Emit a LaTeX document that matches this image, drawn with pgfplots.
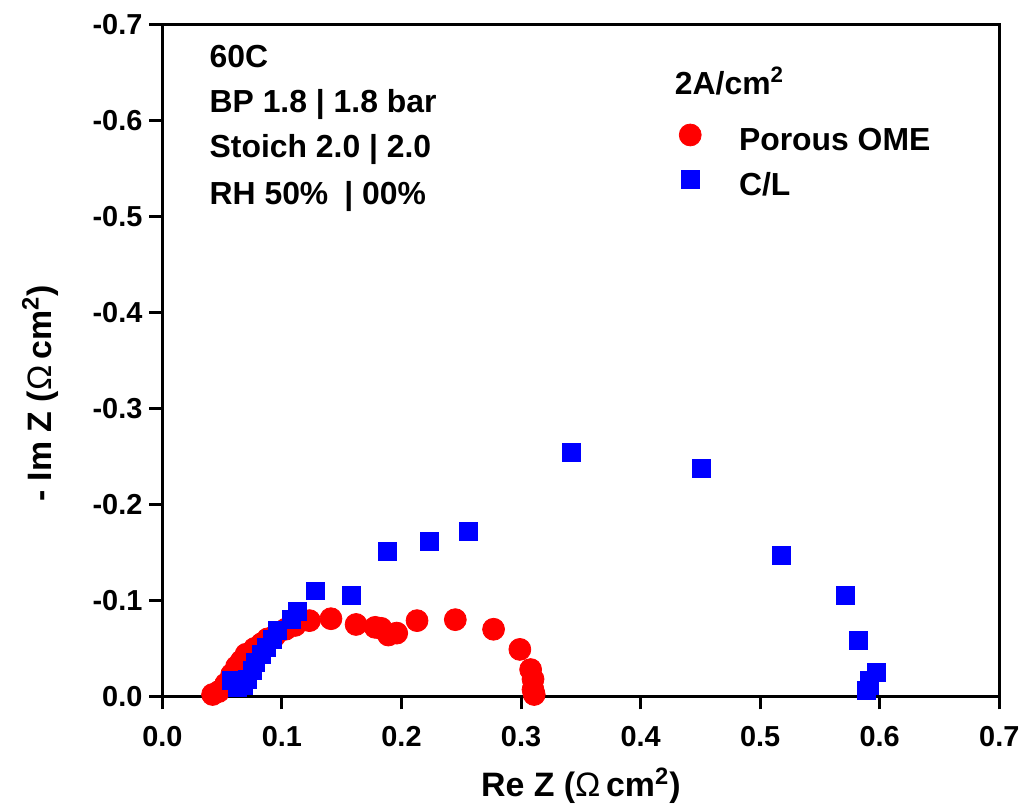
\documentclass[border=0pt]{standalone}
\usepackage{fontspec}
\setmainfont{Liberation Sans}
\usepackage{pgfplots}
\pgfplotsset{compat=1.18}
\begin{document}
\begin{tikzpicture}
\begin{axis}[
  scale only axis,
  width=420pt, height=337pt,
  xmin=0, xmax=0.7, ymin=-0.7, ymax=0,
  y dir=reverse,
  axis line style={line width=1.5pt},
  every tick/.style={line width=1.5pt, black},
  tick align=outside, tick pos=left,
  major tick length=6.5pt,
  xtick={0,0.1,0.2,0.3,0.4,0.5,0.6,0.7},
  xticklabels={0.0,0.1,0.2,0.3,0.4,0.5,0.6,0.7},
  ytick={0,-0.1,-0.2,-0.3,-0.4,-0.5,-0.6,-0.7},
  yticklabels={0.0,-0.1,-0.2,-0.3,-0.4,-0.5,-0.6,-0.7},
  ticklabel style={font=\fontsize{14.5}{16}\selectfont\bfseries},
  xticklabel style={yshift=-5pt},
  xlabel={Re Z ({\mdseries Ω}\,cm\textsuperscript{2})},
  ylabel={- Im Z ({\mdseries Ω}\,cm\textsuperscript{2})},
  label style={font=\fontsize{17}{19}\selectfont\bfseries},
  xlabel style={at={(axis description cs:0.5,-0.133)}, anchor=center},
  ylabel style={at={(axis description cs:-0.146,0.451)}, anchor=center},
  legend style={at={(rel axis cs:0.61,0.876)}, anchor=north west, draw=none, fill=none,
    font=\fontsize{16}{18}\selectfont\bfseries},
  legend cell align=left,
]
\addplot[only marks, mark=*, mark size=5.5pt, color=red, fill=red] coordinates {
(0.042,-0.002) (0.047,-0.005) (0.053,-0.013) (0.058,-0.023) (0.062,-0.031)
(0.066,-0.037) (0.070,-0.044) (0.077,-0.050) (0.083,-0.055) (0.088,-0.060)
(0.094,-0.063) (0.103,-0.070) (0.111,-0.074) (0.123,-0.079) (0.141,-0.081)
(0.162,-0.075) (0.178,-0.072) (0.183,-0.071) (0.189,-0.064) (0.196,-0.066)
(0.213,-0.079) (0.245,-0.080) (0.277,-0.070) (0.299,-0.049) (0.308,-0.028)
(0.310,-0.018) (0.310,-0.007) (0.311,-0.002)
};
\addlegendentry{\hspace{17pt}Porous OME\rule[-6.5pt]{0pt}{23.5pt}}
\addplot[only marks, mark=square*, mark size=4.5pt, color=blue, fill=blue] coordinates {
(0.058,-0.017) (0.063,-0.009) (0.068,-0.011) (0.071,-0.018) (0.075,-0.027)
(0.078,-0.035) (0.083,-0.044) (0.087,-0.051) (0.092,-0.059) (0.096,-0.069)
(0.108,-0.080) (0.113,-0.089) (0.128,-0.110) (0.158,-0.105) (0.188,-0.151)
(0.223,-0.162) (0.256,-0.172) (0.342,-0.254) (0.451,-0.238) (0.518,-0.147)
(0.571,-0.105) (0.582,-0.058) (0.597,-0.025) (0.591,-0.017) (0.591,-0.011)
(0.589,-0.006)
};
\addlegendentry{\hspace{17pt}C/L\rule[-6.5pt]{0pt}{23.5pt}}
\node[anchor=base west, font=\fontsize{16}{18}\selectfont\bfseries, inner sep=0pt] at (rel axis cs:0.056,0.936) {60C};
\node[anchor=base west, font=\fontsize{16}{18}\selectfont\bfseries, inner sep=0pt] at (rel axis cs:0.056,0.869) {BP 1.8 | 1.8 bar};
\node[anchor=base west, font=\fontsize{16}{18}\selectfont\bfseries, inner sep=0pt] at (rel axis cs:0.056,0.803) {Stoich 2.0 | 2.0};
\node[anchor=base west, font=\fontsize{16}{18}\selectfont\bfseries, inner sep=0pt] at (rel axis cs:0.056,0.733) {RH 50\%\enspace| 00\%};
\node[anchor=base west, font=\fontsize{16}{18}\selectfont\bfseries, inner sep=0pt] at (rel axis cs:0.612,0.896) {2A/cm\textsuperscript{2}};
\end{axis}
\path ([xshift=-81.5pt,yshift=-54.5pt]current axis.south west) rectangle ([xshift=11.5pt,yshift=12.5pt]current axis.north east);
\end{tikzpicture}
\end{document}
